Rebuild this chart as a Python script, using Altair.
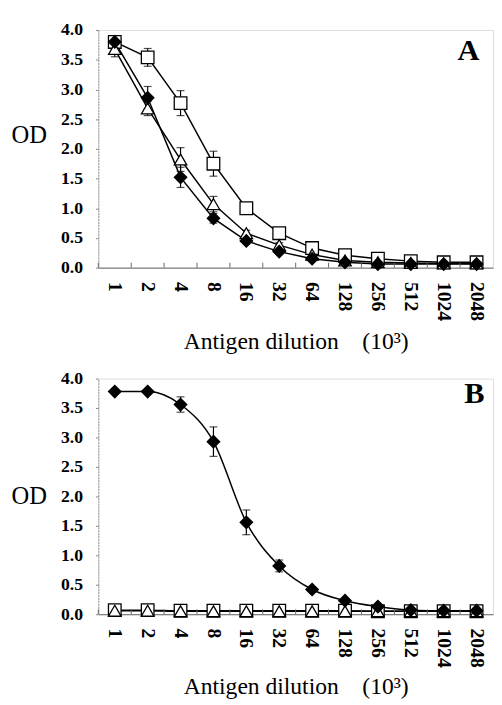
import altair as alt
import pandas as pd

dil = ["1", "2", "4", "8", "16", "32", "64", "128", "256", "512", "1024", "2048"]
series_names = ["square", "triangle", "diamond"]

# Panel A
A_square = [3.80, 3.54, 2.77, 1.75, 1.00, 0.58, 0.33, 0.21, 0.15, 0.11, 0.09, 0.09]
A_square_err = [0.05, 0.15, 0.21, 0.21, 0.04, 0.03, 0.02, 0.02, 0.01, 0.01, 0.01, 0.01]
A_tri = [3.68, 2.68, 1.82, 1.07, 0.58, 0.38, 0.22, 0.12, 0.09, 0.08, 0.07, 0.07]
A_tri_err = [0.13, 0.12, 0.20, 0.13, 0.05, 0.04, 0.02, 0.01, 0.01, 0.01, 0.01, 0.01]
A_dia = [3.80, 2.86, 1.52, 0.83, 0.45, 0.27, 0.15, 0.09, 0.06, 0.06, 0.06, 0.06]
A_dia_err = [0.05, 0.19, 0.17, 0.08, 0.03, 0.03, 0.02, 0.01, 0.01, 0.01, 0.01, 0.01]

# Panel B
B_square = [0.07, 0.07, 0.06, 0.06, 0.06, 0.06, 0.06, 0.06, 0.05, 0.05, 0.05, 0.05]
B_square_err = [0.01] * 12
B_tri = [0.06, 0.06, 0.05, 0.05, 0.05, 0.05, 0.05, 0.05, 0.05, 0.05, 0.05, 0.05]
B_tri_err = [0.01] * 12
B_dia = [3.78, 3.78, 3.56, 2.93, 1.56, 0.82, 0.42, 0.23, 0.13, 0.07, 0.06, 0.06]
B_dia_err = [0.02, 0.02, 0.13, 0.25, 0.21, 0.10, 0.03, 0.02, 0.01, 0.01, 0.01, 0.01]

y_ticks = [0.0, 0.5, 1.0, 1.5, 2.0, 2.5, 3.0, 3.5, 4.0]

SERIF = "Liberation Serif"
W = 402
X_TITLE = "Antigen dilution\u00a0\u00a0\u00a0\u00a0(10³)"


def long_df(vals, errs):
    rows = []
    for name, v, e in zip(series_names, vals, errs):
        for d, o, er in zip(dil, v, e):
            rows.append({"dil": d, "series": name, "od": o, "lo": o - er, "hi": o + er})
    return pd.DataFrame(rows)


def panel(df, h, letter, lx, ly, od_y, title_y, interp):
    xscale = alt.Scale(type="band", paddingInner=0, paddingOuter=0)
    x_ax = alt.Axis(
        title=X_TITLE, labelAngle=90, labelFont=SERIF,
        labelFontWeight="bold", labelFontSize=20, labelColor="black",
        labelPadding=14, ticks=False, domainColor="#666", domainWidth=1,
        labelOverlap=False,
        titleFont=SERIF, titleFontSize=24, titleFontWeight="normal",
        titleColor="black", titleY=title_y, titleBaseline="alphabetic",
    )
    y_ax = alt.Axis(
        values=y_ticks, format=".1f", title="OD", titleAngle=0, titleX=-89,
        titleY=od_y, titleAlign="left", titleBaseline="alphabetic",
        titleFont=SERIF, titleFontSize=25, titleFontWeight="normal",
        titleColor="black", labelFont=SERIF, labelFontWeight="bold",
        labelFontSize=18, labelColor="black", tickSize=3, tickColor="#888",
        domainColor="#999", domainDash=[2, 1], grid=False, labelPadding=13,
        labelOverlap=False,
    )
    ysc = alt.Scale(domain=[0, 4], nice=False)
    xs = alt.X("dil:O", sort=dil, scale=xscale, axis=x_ax)

    def Y(f):
        return alt.Y(f"{f}:Q", scale=ysc, axis=y_ax)

    base = alt.Chart(df)
    lines = base.mark_line(color="black", strokeWidth=1.5, interpolate=interp).encode(
        x=xs, y=Y("od"), detail="series:N"
    )
    err = base.mark_rule(color="black", strokeWidth=1.2).encode(
        x=xs, y=Y("lo"), y2="hi:Q"
    )
    cap_lo = base.mark_tick(color="black", thickness=1.2, size=8).encode(x=xs, y=Y("lo"))
    cap_hi = base.mark_tick(color="black", thickness=1.2, size=8).encode(x=xs, y=Y("hi"))
    pts = base.mark_point(filled=True, stroke="black", strokeWidth=1.3, opacity=1).encode(
        x=xs, y=Y("od"),
        shape=alt.Shape("series:N", scale=alt.Scale(domain=series_names, range=["square", "triangle-up", "diamond"]), legend=None),
        fill=alt.Fill("series:N", scale=alt.Scale(domain=series_names, range=["white", "white", "black"]), legend=None),
        size=alt.Size("series:N", scale=alt.Scale(domain=series_names, range=[165, 160, 150]), legend=None),
    )
    tick_df = pd.DataFrame({"dil": dil})
    xticks = alt.Chart(tick_df).mark_rule(color="#666", strokeWidth=1).encode(
        x=alt.X("dil:O", sort=dil, scale=xscale, axis=x_ax, bandPosition=0),
        y=alt.value(h - 5), y2=alt.value(h)
    )
    lab = alt.Chart(pd.DataFrame({"t": [letter]})).mark_text(
        font=SERIF, fontSize=31, fontWeight="bold", align="center", baseline="alphabetic", color="black"
    ).encode(text="t:N", x=alt.value(lx), y=alt.value(ly))
    return alt.layer(lines, xticks, err, cap_lo, cap_hi, pts, lab).properties(width=W, height=h)


dfA = long_df([A_square, A_tri, A_dia], [A_square_err, A_tri_err, A_dia_err])
dfB = long_df([B_square, B_tri, B_dia], [B_square_err, B_tri_err, B_dia_err])

pA = panel(dfA, 242, "A", 377, 31, 115, 82, "linear")
pB = panel(dfB, 240, "B", 383, 25, 127, 81, "monotone")

chart = alt.vconcat(pA, pB, spacing=15).properties(
    padding={"left": 2, "top": 6, "right": 0, "bottom": 0}
).configure_view(stroke=None).configure(background="white")

chart.save("out.html", embed_options={"renderer": "svg", "actions": False})
